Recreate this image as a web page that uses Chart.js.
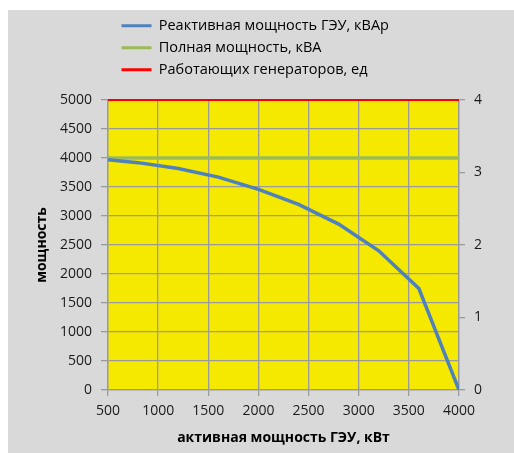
<!DOCTYPE html>
<html>
<head>
<meta charset="utf-8">
<script src="https://cdn.jsdelivr.net/npm/chart.js@4/dist/chart.umd.min.js"></script>
<style>
  html, body { margin: 0; padding: 0; background: #ffffff; }
  #wrap { width: 514px; height: 453px; position: relative; }
</style>
</head>
<body>
<div id="wrap"><canvas id="c" width="514" height="453"></canvas></div>
<script>
// ---- data ----
const activePower   = [500, 800, 1200, 1600, 2000, 2400, 2800, 3200, 3600, 4000];
const reactivePower = [3970, 3920, 3820, 3670, 3460, 3200, 2860, 2400, 1750, 0];
const fullPower     = [4000, 4000, 4000, 4000, 4000, 4000, 4000, 4000, 4000, 4000];
const generators    = [4, 4, 4, 4, 4, 4, 4, 4, 4, 4];
const seriesNames   = ['Реактивная мощность ГЭУ, кВАр', 'Полная мощность, кВА', 'Работающих генераторов, ед'];
const xTitle = 'активная мощность ГЭУ, кВт';
const yTitle = 'мощность';
const xTicks = [500, 1000, 1500, 2000, 2500, 3000, 3500, 4000];
const yTicks = [0, 500, 1000, 1500, 2000, 2500, 3000, 3500, 4000, 4500, 5000];
const y2Ticks = [0, 1, 2, 3, 4];

const toPoints = (xs, ys) => xs.map((x, i) => ({ x: x, y: ys[i] }));

const FONT = "'Open Sans', 'DejaVu Sans', sans-serif";
const GRID = '#9a9a9a';
const plain = v => String(v);

const bgPlugin = {
  id: 'bg',
  beforeDraw(chart) {
    const ctx = chart.ctx;
    ctx.save();
    ctx.fillStyle = '#ffffff';
    ctx.fillRect(0, 0, chart.width, chart.height);
    ctx.fillStyle = '#d9d9d9';
    ctx.fillRect(8, 10, chart.width - 8, chart.height - 10);
    const a = chart.chartArea;
    ctx.fillStyle = '#f5e900';
    ctx.fillRect(a.left, a.top, a.right - a.left, a.bottom - a.top);
    ctx.restore();
  },
  afterLayout(chart) {
    const lg = chart.legend;
    if (lg) { lg.left += 6; lg.right += 6; lg.top -= 13; lg.bottom -= 13; }
  }
};

new Chart(document.getElementById('c'), {
  type: 'line',
  data: {
    datasets: [
      { label: seriesNames[0], data: toPoints(activePower, reactivePower), borderColor: '#4f81bd', backgroundColor: '#4f81bd', borderWidth: 3.5, pointRadius: 0, tension: 0, yAxisID: 'y', order: 1 },
      { label: seriesNames[1], data: toPoints(activePower, fullPower), borderColor: '#9bbb59', backgroundColor: '#9bbb59', borderWidth: 3.5, pointRadius: 0, tension: 0, yAxisID: 'y', order: 2 },
      { label: seriesNames[2], data: toPoints(activePower, generators), borderColor: '#ff0000', backgroundColor: '#ff0000', borderWidth: 2, pointRadius: 0, tension: 0, yAxisID: 'y1', clip: false, order: 0 }
    ]
  },
  options: {
    responsive: false,
    animation: false,
    events: [],
    layout: { padding: { left: 25, top: 24, right: 0, bottom: 0 } },
    plugins: {
      tooltip: { enabled: false },
      legend: {
        display: true,
        position: 'top',
        align: 'start',
        fullSize: false,
        labels: {
          font: { family: FONT, size: 14.5 },
          color: '#000000',
          padding: 7.5,
          boxWidth: 30,
          boxHeight: 3,
          generateLabels(chart) {
            return chart.data.datasets.map((ds, i) => ({
              text: ds.label,
              fillStyle: ds.borderColor,
              strokeStyle: ds.borderColor,
              lineWidth: 0,
              hidden: false,
              datasetIndex: i
            }));
          }
        }
      }
    },
    scales: {
      x: {
        type: 'linear',
        min: 500, max: 4000,
        afterBuildTicks(s) { s.ticks = xTicks.map(v => ({ value: v })); },
        afterFit(s) { s.height = 63; },
        grid: { color: GRID, lineWidth: 1.3, tickLength: 6, drawTicks: true },
        border: { color: GRID, width: 1.3 },
        ticks: { font: { family: FONT, size: 14 }, color: '#1a1a1a', padding: 7, maxRotation: 0, callback: plain },
        title: { display: true, text: xTitle, font: { family: FONT, size: 14, weight: 'bold' }, color: '#000000', padding: { top: 0, bottom: 7 } }
      },
      y: {
        type: 'linear',
        position: 'left',
        min: 0, max: 5000,
        afterBuildTicks(s) { s.ticks = yTicks.map(v => ({ value: v })); },
        afterFit(s) { s.width = 83; },
        grid: { color: GRID, lineWidth: 1.3, tickLength: 7 },
        border: { color: GRID, width: 1.3 },
        ticks: { font: { family: FONT, size: 14 }, color: '#1a1a1a', padding: 9, callback: plain },
        title: { display: true, text: yTitle, font: { family: FONT, size: 14, weight: 'bold' }, color: '#000000', padding: { top: 9, bottom: 0 } }
      },
      y1: {
        type: 'linear',
        position: 'right',
        min: 0, max: 4,
        afterBuildTicks(s) { s.ticks = y2Ticks.map(v => ({ value: v })); },
        afterFit(s) { s.width = 55; },
        grid: { drawOnChartArea: false, color: GRID, lineWidth: 1.3, tickLength: 6 },
        border: { color: GRID, width: 1.3 },
        ticks: { font: { family: FONT, size: 14 }, color: '#1a1a1a', padding: 9, callback: plain }
      }
    }
  },
  plugins: [bgPlugin]
});
</script>
</body>
</html>
